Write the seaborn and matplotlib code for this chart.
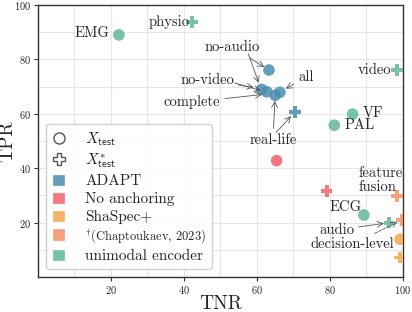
import matplotlib
matplotlib.use("Agg")
import matplotlib.pyplot as plt
import seaborn as sns
import pandas as pd
from matplotlib.lines import Line2D
from matplotlib.patches import Patch
from matplotlib.ticker import MultipleLocator

# data
tnr = [22.2, 42.2, 63.3, 61.3, 62.7, 65.0, 66.3, 70.4, 98.4, 86.2, 81.2,
       65.4, 79.1, 89.3, 96.3, 98.4, 99.8, 99.2, 99.2]
tpr = [89.0, 93.7, 76.1, 69.0, 68.1, 66.8, 67.9, 60.6, 76.0, 59.9, 55.8,
       42.8, 31.7, 22.8, 20.0, 29.8, 21.0, 13.9, 7.2]
method = ["unimodal", "unimodal", "ADAPT", "ADAPT", "ADAPT", "ADAPT", "ADAPT", "ADAPT",
          "unimodal", "unimodal", "unimodal", "noanchor", "noanchor", "unimodal",
          "unimodal", "chap", "chap", "shaspec", "shaspec"]
test_set = ["X", "X*", "X", "X", "X", "X", "X", "X*", "X*", "X", "X",
            "X", "X*", "X", "X*", "X*", "X*", "X", "X*"]

colors = {"ADAPT": "#4a8db0", "noanchor": "#f2616a", "shaspec": "#f6a64a",
          "chap": "#f59068", "unimodal": "#62b89a"}
legend_labels = ["ADAPT", "No anchoring", "ShaSpec+",
                 r"$^{\dagger}$(Chaptoukaev, 2023)", "unimodal encoder"]
legend_keys = ["ADAPT", "noanchor", "shaspec", "chap", "unimodal"]

df = pd.DataFrame({"TNR": tnr, "TPR": tpr, "method": method, "set": test_set})

sns.set_style("whitegrid")
plt.rcParams["font.family"] = ["cmr10", "DejaVu Serif"]
plt.rcParams["mathtext.fontset"] = "cm"
plt.rcParams["axes.formatter.use_mathtext"] = True

fig = plt.figure(figsize=(4.12, 3.12), dpi=100)
ax = fig.add_axes([0.092, 0.112, 0.886, 0.872])

sns.scatterplot(data=df, x="TNR", y="TPR", hue="method", style="set",
                palette=colors, markers={"X": "o", "X*": "P"}, s=70,
                alpha=0.85, linewidth=0, legend=False, ax=ax, zorder=3)

ax.set_xlim(0, 100)
ax.set_ylim(0, 100)
ax.set_xticks([20, 40, 60, 80, 100])
ax.set_yticks([20, 40, 60, 80, 100])
ax.xaxis.set_minor_locator(MultipleLocator(10))
ax.yaxis.set_minor_locator(MultipleLocator(10))
ax.grid(True, which="both", color="#e6e6e6", lw=0.8)
ax.tick_params(axis="both", which="major", labelsize=7.5, length=3, width=0.8,
               color="#333333", bottom=True, left=True, pad=2)
ax.tick_params(which="minor", length=0)
for sp in ax.spines.values():
    sp.set_color("#333333")
    sp.set_linewidth(1.0)
ax.set_xlabel("TNR", fontsize=14, labelpad=-1)
ax.set_ylabel("TPR", fontsize=14, labelpad=-2)

fs = 10.5
arr = dict(arrowstyle="->", color="#555555", lw=0.6, shrinkA=1, shrinkB=4)
ax.text(19.7, 89.5, "EMG", fontsize=fs, ha="right", va="center")
ax.text(41.6, 93.8, "physio", fontsize=fs, ha="right", va="center")
ax.text(96.7, 76.0, "video", fontsize=fs, ha="right", va="center")
ax.text(89.0, 60.3, "VF", fontsize=fs, ha="left", va="center")
ax.text(84.1, 55.9, "PAL", fontsize=fs, ha="left", va="center")
ax.text(84.4, 25.8, "ECG", fontsize=fs, ha="center", va="center")
ax.text(87.7, 35.7, "feature\nfusion", fontsize=fs, ha="left", va="center",
        linespacing=1.0)
ax.annotate("no-audio", xy=(63.3, 76.1), xytext=(53.2, 84.6), fontsize=fs,
            ha="center", va="center", arrowprops=arr)
ax.annotate("", xy=(61.0, 69.5), xytext=(57.5, 82.6), arrowprops=arr)
ax.annotate("no-video", xy=(60.6, 69.4), xytext=(46.3, 72.4), fontsize=fs,
            ha="center", va="center", arrowprops=arr)
ax.annotate("", xy=(62.5, 68.0), xytext=(53.5, 71.5), arrowprops=arr)
ax.annotate("complete", xy=(62.9, 67.3), xytext=(42.2, 64.3), fontsize=fs,
            ha="center", va="center", arrowprops=arr)
ax.annotate("all", xy=(66.6, 68.2), xytext=(73.4, 73.5), fontsize=fs,
            ha="center", va="center", arrowprops=arr)
ax.annotate("real-life", xy=(65.0, 66.8), xytext=(64.4, 50.4), fontsize=fs,
            ha="center", va="center", arrowprops=arr)
ax.annotate("", xy=(70.4, 60.6), xytext=(65.0, 52.8), arrowprops=arr)
ax.annotate("audio", xy=(96.3, 20.0), xytext=(81.8, 17.3), fontsize=fs,
            ha="center", va="center", arrowprops=arr)
ax.annotate("decision-level", xy=(99.8, 21.0), xytext=(86.2, 12.1), fontsize=fs,
            ha="center", va="center", arrowprops=dict(arr, ls="--"))

handles = [Line2D([], [], marker="o", ls="", mfc="none", mec="#555555", ms=8, mew=1.0),
           Line2D([], [], marker="P", ls="", mfc="none", mec="#555555", ms=9, mew=1.0)]
handles += [Patch(facecolor=colors[k], alpha=0.85) for k in legend_keys]
labels = [r"$X_{\mathsf{test}}$", r"$X^{*}_{\mathsf{test}}$"] + legend_labels
leg = ax.legend(handles, labels, loc="lower left", fontsize=11,
                handlelength=0.9, handleheight=0.9, handletextpad=1.3,
                labelspacing=0.22, borderaxespad=0.5, borderpad=0.4,
                frameon=True, edgecolor="#cccccc", framealpha=0.9)
leg.get_texts()[5].set_fontsize(9)

fig.savefig("out.png", dpi=100)
